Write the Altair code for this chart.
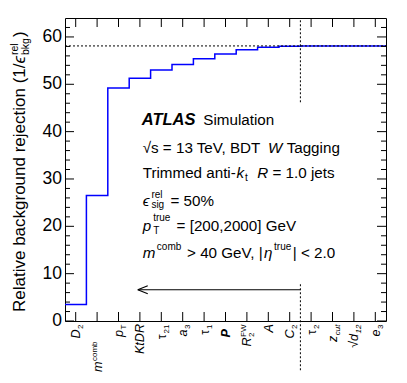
import altair as alt
import pandas as pd

# ---------------- data ----------------
variables = ["D2", "m_comb", "pT", "KtDR", "tau21", "a3", "tau1", "P",
             "R2FW", "A", "C2", "tau2", "zcut", "sqrt_d12", "e3"]
rejection = [3.5, 26.5, 49.2, 51.3, 53.0, 54.2, 55.4, 56.4,
             57.3, 57.8, 58.05, 58.1, 58.1, 58.1, 58.1]
plateau = [58.1]
cut_boundary = [11]                       # boundary between C2 and tau2
cut_line_segments = [(46.2, 64.0), (-10.4, 8.0)]
arrow_from = [11.0]
arrow_to = [3.4]
arrow_level = [6.6]
y_major = [0, 10, 20, 30, 40, 50, 60]
y_minor = [2, 4, 6, 8, 12, 14, 16, 18, 22, 24, 26, 28, 32, 34, 36, 38,
           42, 44, 46, 48, 52, 54, 56, 58, 62]

# label markup: (kind, text, style)
label_markup = [
    [("m", "D", "i"), ("sub", "2", "n")],
    [("m", "m", "i"), ("sup", "comb", "n")],
    [("m", "p", "i"), ("sub", "T", "n")],
    [("m", "KtDR", "i")],
    [("m", "τ", "n"), ("sub", "21", "n")],
    [("m", "a", "i"), ("sub", "3", "n")],
    [("m", "τ", "n"), ("sub", "1", "n")],
    [("m", "P", "bi")],
    [("m", "R", "i"), ("stack", ("2", "FW"), "i")],
    [("m", "A", "i")],
    [("m", "C", "i"), ("sub", "2", "n")],
    [("m", "τ", "n"), ("sub", "2", "n")],
    [("m", "z", "i"), ("sub", "cut", "i")],
    [("m", "√", "n"), ("m", "d", "i"), ("sub", "12", "i")],
    [("m", "e", "i"), ("sub", "3", "n")],
]
label_end_special = {"m_comb": 341, "P": 329}

# ---------------- layout ----------------
FONT = "Liberation Sans, Arial, DejaVu Sans"
W, H = 321, 303
OX, OY = 65, 18          # plot origin on screen

HW = {' ': 278, '!': 278, '(': 333, ')': 333, ',': 278, '-': 333, '.': 278,
      '/': 278, '=': 584, '<': 584, '>': 584, '%': 889, '[': 278, ']': 278,
      '|': 260, 'A': 667, 'B': 667, 'C': 722, 'D': 722, 'E': 667, 'F': 611,
      'G': 778, 'H': 722, 'I': 278, 'J': 500, 'K': 667, 'L': 556, 'M': 833,
      'N': 722, 'O': 778, 'P': 667, 'Q': 778, 'R': 722, 'S': 667, 'T': 611,
      'U': 722, 'V': 667, 'W': 944, 'X': 667, 'Y': 667, 'Z': 611,
      'a': 556, 'b': 556, 'c': 500, 'd': 556, 'e': 556, 'f': 278, 'g': 556,
      'h': 556, 'i': 222, 'j': 222, 'k': 500, 'l': 222, 'm': 833, 'n': 556,
      'o': 556, 'p': 556, 'q': 556, 'r': 333, 's': 500, 't': 278, 'u': 556,
      'v': 500, 'w': 722, 'x': 500, 'y': 500, 'z': 500,
      'τ': 430, 'ϵ': 440, 'η': 556, '√': 549}
BOLD = {'A': 722, 'T': 611, 'L': 611, 'S': 667, 'P': 667}


def tw(s, fs, bold=False):
    tot = 0
    for c in s:
        tot += (BOLD.get(c, HW.get(c, 556)) if bold else HW.get(c, 556))
    return tot * fs / 1000.0


xscale = alt.Scale(domain=[0, 15], nice=False, zero=False)
yscale = alt.Scale(domain=[0, 64], nice=False, zero=False)


def style_kw(style):
    kw = {}
    if "i" in style:
        kw["fontStyle"] = "italic"
    if "b" in style:
        kw["fontWeight"] = "bold"
    return kw


layers = []

# step line
step_df = pd.DataFrame({"x": list(range(len(rejection) + 1)),
                        "y": rejection + [rejection[-1]]})
layers.append(
    alt.Chart(step_df).mark_line(interpolate="step-after", color="#0000ff",
                                 strokeWidth=1.5).encode(
        x=alt.X("x:Q", scale=xscale, axis=None),
        y=alt.Y("y:Q", scale=yscale, axis=None))
)

# y axis labels
layers.append(
    alt.Chart(pd.DataFrame({"v": y_major})).mark_text(
        align="right", baseline="middle", font=FONT, fontSize=17.5,
        color="black").encode(
        y=alt.Y("v:Q", scale=yscale, axis=None),
        x=alt.value(-3), text="v:Q")
)

# plateau dotted line
layers.append(
    alt.Chart(pd.DataFrame({"y": plateau})).mark_rule(
        color="black", strokeWidth=1, strokeDash=[2, 2]).encode(
        y=alt.Y("y:Q", scale=yscale, axis=None),
        x=alt.value(0), x2=alt.value(W))
)

# vertical cut line (two pieces, around the text block)
seg_df = pd.DataFrame({"x": [cut_boundary[0]] * len(cut_line_segments),
                       "y": [s[0] for s in cut_line_segments],
                       "y2": [s[1] for s in cut_line_segments]})
layers.append(
    alt.Chart(seg_df).mark_rule(color="black", strokeWidth=1,
                                strokeDash=[2, 2]).encode(
        x=alt.X("x:Q", scale=xscale, axis=None),
        y=alt.Y("y:Q", scale=yscale, axis=None), y2="y2:Q")
)

# arrow
arrow_df = pd.DataFrame({"x": arrow_to, "x2": arrow_from, "y": arrow_level})
layers.append(
    alt.Chart(arrow_df).mark_rule(color="black", strokeWidth=1.2).encode(
        x=alt.X("x:Q", scale=xscale, axis=None), x2="x2:Q",
        y=alt.Y("y:Q", scale=yscale, axis=None))
)
layers.append(
    alt.Chart(arrow_df).mark_point(shape="M0,0L2.5,-1M0,0L2.5,1", size=64,
                                   filled=False, color="black",
                                   strokeWidth=1.2, opacity=1).encode(
        x=alt.X("x:Q", scale=xscale, axis=None),
        y=alt.Y("y:Q", scale=yscale, axis=None))
)

# inward ticks
for vals, ln in ((y_major, 9), (y_minor, 5)):
    df = pd.DataFrame({"v": vals})
    for x1, x2 in ((0, ln), (W - ln, W)):
        layers.append(
            alt.Chart(df).mark_rule(color="black", strokeWidth=1).encode(
                y=alt.Y("v:Q", scale=yscale, axis=None),
                x=alt.value(x1), x2=alt.value(x2))
        )
pos_df = pd.DataFrame({"p": [i + 0.5 for i in range(len(variables))]})
for y1, y2 in ((H, H - 9), (0, 9)):
    layers.append(
        alt.Chart(pos_df).mark_rule(color="black", strokeWidth=1).encode(
            x=alt.X("p:Q", scale=xscale, axis=None),
            y=alt.value(y1), y2=alt.value(y2))
    )

# ---------------- rich text helpers ----------------


def layout(segs, fs, sfs, sub_shift, sup_shift, gap=1.0):
    """returns list of (text, advance, size, style, shift)"""
    items, adv = [], 0.0
    for kind, text, style in segs:
        if kind == "m":
            lead = len(text) - len(text.lstrip(" "))
            trail = len(text) - len(text.rstrip(" "))
            adv += tw(" " * lead, fs)
            core = text.strip(" ")
            items.append((core, adv, fs, style, 0))
            adv += tw(core, fs, "b" in style) + tw(" " * trail, fs)
        elif kind in ("sub", "sup"):
            adv += gap
            sh = sub_shift if kind == "sub" else sup_shift
            items.append((text, adv, sfs, style, sh))
            adv += tw(text, sfs) + gap
        elif kind == "stack":
            adv += gap
            sb, sp = text
            items.append((sb, adv, sfs, style if sb.isalpha() else "n", sub_shift))
            items.append((sp, adv, sfs, "n", sup_shift))
            adv += max(tw(sb, sfs), tw(sp, sfs)) + gap
    return items, adv


def horiz_text(segs, x0, base, fs, sfs, sub_shift, sup_shift, gap=1.0):
    items, _ = layout(segs, fs, sfs, sub_shift, sup_shift, gap)
    out = []
    for text, a, size, style, sh in items:
        out.append(
            alt.Chart(pd.DataFrame({"t": [text]})).mark_text(
                align="left", baseline="alphabetic", font=FONT, fontSize=size,
                color="black", **style_kw(style)).encode(
                text="t:N", x=alt.value(x0 + a), y=alt.value(base + sh))
        )
    return out


# x axis labels (rotated, reading upward)
LFS, LSFS = 12.6, 8.0
for i, (name, segs) in enumerate(zip(variables, label_markup)):
    items, total = layout(segs, LFS, LSFS, 3.0, -5.0, gap=0.5)
    end_y = label_end_special.get(name, 324) - OY
    start_y = end_y + total
    for text, a, size, style, sh in items:
        layers.append(
            alt.Chart(pd.DataFrame({"p": [i + 0.5], "t": [text]})).mark_text(
                angle=270, align="left", baseline="alphabetic", font=FONT,
                fontSize=size, color="black", dx=a, dy=4.5 + sh,
                **style_kw(style)).encode(
                x=alt.X("p:Q", scale=xscale, axis=None),
                y=alt.value(start_y), text="t:N")
        )

# y axis title (rotated)
title_segs = [("m", "Relative background rejection (1/", "n"),
              ("m", "ϵ", "i"),
              ("stack", ("bkg", "rel"), "n"),
              ("m", ")", "n")]
items, total = layout(title_segs, 17.0, 10.5, 4.0, -7.0, gap=1.0)
t_start = 312 - OY
t_base = 25 - OX
for text, a, size, style, sh in items:
    layers.append(
        alt.Chart(pd.DataFrame({"t": [text]})).mark_text(
            angle=270, align="left", baseline="alphabetic", font=FONT,
            fontSize=size, color="black", **style_kw(style)).encode(
            text="t:N", x=alt.value(t_base + sh), y=alt.value(t_start - a))
    )

# annotation block
TX = 142.7 - OX
AFS, ASFS = 15.2, 10.0
layers += horiz_text([("m", "ATLAS", "bi")], 141.7 - OX, 125 - OY, 16.5, ASFS, 0, 0)
layers += horiz_text([("m", "Simulation", "n")], 203.3 - OX, 125 - OY, AFS, ASFS, 0, 0)
layers += horiz_text([("m", "√s = 13 TeV, BDT ", "n"), ("m", "W", "i"),
                      ("m", " Tagging", "n")], TX, 152.7 - OY, AFS, ASFS, 3, -7)
layers += horiz_text([("m", "Trimmed anti-", "n"), ("m", "k", "i"),
                      ("sub", "t", "n"), ("m", " ", "n"), ("m", "R", "i"),
                      ("m", " = 1.0 jets", "n")], TX, 177.7 - OY, AFS, ASFS, 3, -7)
layers += horiz_text([("m", "ϵ", "i"), ("stack", ("sig", "rel"), "n"),
                      ("m", " = 50%", "n")], TX, 206 - OY, AFS, ASFS, 2, -8, gap=2)
layers += horiz_text([("m", "p", "i"), ("stack", ("T", "true"), "n"),
                      ("m", " = [200,2000] GeV", "n")], TX, 231 - OY, AFS, ASFS, 3, -10, gap=2)
layers += horiz_text([("m", "m", "i"), ("sup", "comb", "n"),
                      ("m", " > 40 GeV, |", "n"), ("m", "η", "i"),
                      ("sup", "true", "n"), ("m", "| < 2.0", "n")],
                     TX, 257.7 - OY, AFS, ASFS, 3, -8, gap=1.5)

chart = alt.layer(*layers).properties(
    width=W, height=H,
    autosize=alt.AutoSizeParams(type="none"),
    padding={"left": OX - 8, "top": OY - 8, "right": 10, "bottom": 52},
    background="white",
).configure_view(stroke="black", strokeWidth=1)

chart.save("out.html", embed_options={"renderer": "svg", "actions": False})
